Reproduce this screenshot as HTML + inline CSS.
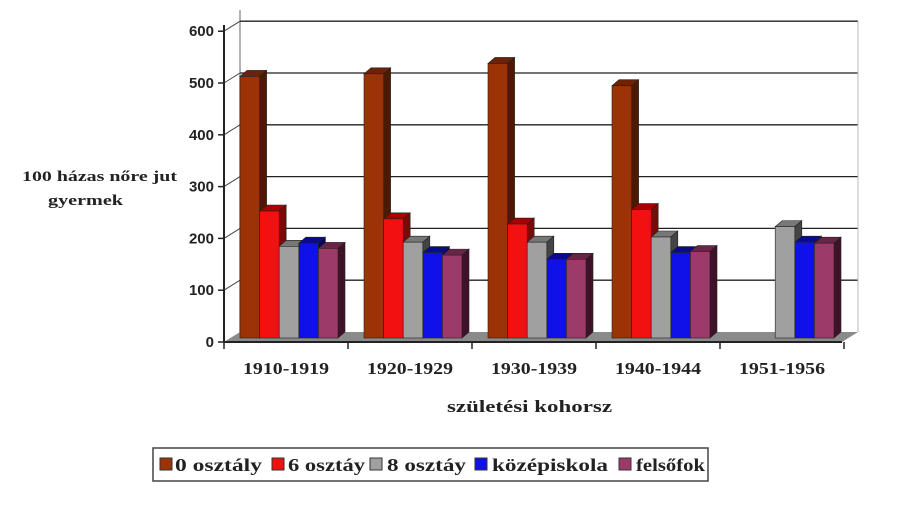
<!DOCTYPE html><html><head><style>body{margin:0;background:#fff}svg{display:block}text{font-family:"Liberation Serif",serif;font-weight:bold;fill:#222}</style></head><body>
<svg width="916" height="512" viewBox="0 0 916 512">
<g id="g"></g>
</svg>
<script>
const s=document.querySelector('#g');let h='';
h+='<line x1="240" y1="10" x2="240" y2="332" stroke="#999" stroke-width="1.5"/>';
for(let v=100;v<=600;v+=100){const y=332-v*0.518;h+=`<line x1="240" y1="${y}" x2="858" y2="${y}" stroke="#222" stroke-width="1.3"/><line x1="224" y1="${y+10}" x2="240" y2="${y}" stroke="#444"/>`;}
h+='<line x1="858" y1="21" x2="858" y2="332" stroke="#bbb"/>';
h+='<polygon points="224,342 240,332 858,332 842,342" fill="#8a8a8a"/>';
h+='<line x1="224" y1="25" x2="224" y2="342" stroke="#222" stroke-width="2"/><line x1="224" y1="342" x2="842" y2="342" stroke="#222" stroke-width="2"/>';
for(let v=0;v<=600;v+=100){const y=342-v*0.518;h+=`<line x1="218" y1="${y}" x2="224" y2="${y}" stroke="#222" stroke-width="1.5"/><text x="214" y="${y+5}" text-anchor="end" font-size="15" style="font-family:'Liberation Sans',sans-serif">${v}</text>`;}
for(let k=0;k<=5;k++){const x=224+124*k;h+=`<line x1="${x}" y1="342" x2="${x}" y2="349" stroke="#222" stroke-width="1.5"/>`;}
const cols=[['#9b3306','#4a1a05','#6b2206'],['#f21010','#7a0a0a','#a00'],['#a0a0a0','#444','#777'],['#1010e8','#050560','#0a0a90'],['#9c3a6a','#3e1228','#6a2448']];
const data=[[505,245,177,183,173],[510,230,185,165,160],[530,220,185,152,152],[487,248,195,165,167],[null,null,215,185,183]];
data.forEach((g,i)=>{g.forEach((v,j)=>{if(v==null)return;const x=240+124*i+j*19.6,w=19.6,b=338,t=b-v*0.518,d=7;
h+=`<polygon points="${x},${t} ${x+d},${t-6} ${x+w+d},${t-6} ${x+w},${t}" fill="${cols[j][2]}" stroke="#222" stroke-width=".6"/>`;
h+=`<polygon points="${x+w},${t} ${x+w+d},${t-6} ${x+w+d},${b-6} ${x+w},${b}" fill="${cols[j][1]}" stroke="#222" stroke-width=".6"/>`;
h+=`<rect x="${x}" y="${t}" width="${w}" height="${b-t}" fill="${cols[j][0]}" stroke="#222" stroke-width=".6"/>`;});});
['1910-1919','1920-1929','1930-1939','1940-1944','1951-1956'].forEach((l,i)=>{h+=`<text x="${243+124*i}" y="374" font-size="17" textLength="86" lengthAdjust="spacingAndGlyphs">${l}</text>`});
h+='<text x="447" y="412" font-size="17" textLength="165" lengthAdjust="spacingAndGlyphs">születési kohorsz</text>';
h+='<text x="22" y="181" font-size="15" textLength="155" lengthAdjust="spacingAndGlyphs">100 házas nőre jut</text><text x="48" y="205" font-size="15" textLength="75" lengthAdjust="spacingAndGlyphs">gyermek</text>';
h+='<rect x="153" y="448" width="555" height="33" fill="#fff" stroke="#444" stroke-width="1.5"/>';
const lg=[['0 osztály',160,175,87],['6 osztáy',272,288,77],['8 osztáy',370,387,79],['középiskola',475,492,116],['felsőfok',619,636,69]];
lg.forEach((l,j)=>{h+=`<rect x="${l[1]}" y="458" width="12" height="12" fill="${cols[j][0]}" stroke="#333"/><text x="${l[2]}" y="471" font-size="18" textLength="${l[3]}" lengthAdjust="spacingAndGlyphs">${l[0]}</text>`});
s.innerHTML=h;
</script></body></html>
